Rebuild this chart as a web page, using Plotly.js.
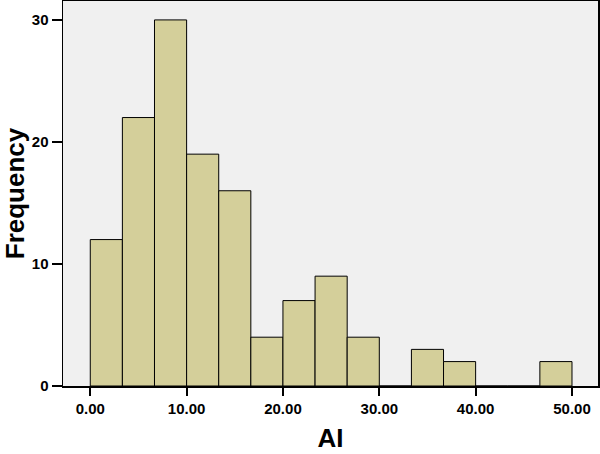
<!DOCTYPE html>
<html>
<head>
<meta charset="utf-8">
<script src="https://cdn.plot.ly/plotly-3.0.1.min.js"></script>
<style>
  html, body { margin: 0; padding: 0; background: #fff; }
  #hist { width: 600px; height: 454px; }
</style>
</head>
<body>
<div id="hist"></div>
<script>
// histogram of AI, 15 bins from 0 to 50
let binStart = 0;
let binEnd = 50;
let counts = [12, 22, 30, 19, 16, 4, 7, 9, 4, 0, 3, 2, 0, 0, 2];
let xTickVals = [0, 10, 20, 30, 40, 50];
let xTickText = ['0.00', '10.00', '20.00', '30.00', '40.00', '50.00'];
let yTickVals = [0, 10, 20, 30];

let binWidth = (binEnd - binStart) / counts.length;
let centers = counts.map((c, i) => binStart + (i + 0.5) * binWidth);

let fontFam = 'Liberation Sans, Arial, Helvetica, sans-serif';

let re = [{
  x: centers,
  y: counts,
  width: counts.map(() => binWidth),
  type: 'bar',
  marker: {color: '#d4cf9a', line: {color: '#000', width: 1}},
  hoverinfo: 'x+y'
}];

let layout = {
  width: 600,
  height: 454,
  margin: {l: 63, r: 2, t: 1, b: 68},
  paper_bgcolor: '#ffffff',
  plot_bgcolor: '#f0f0f0',
  showlegend: false,
  bargap: 0,
  xaxis: {
    range: [-2.83, 52.7],
    tickvals: xTickVals,
    ticktext: xTickText,
    ticks: 'outside',
    ticklen: 8,
    tickwidth: 2,
    tickcolor: '#000',
    showline: true,
    linecolor: '#000',
    linewidth: 1.5,
    mirror: true,
    showgrid: false,
    zeroline: false,
    tickfont: {family: fontFam, size: 15, color: '#000', weight: 'bold'},
    title: {text: 'AI', font: {family: fontFam, size: 26, color: '#000', weight: 'bold'}, standoff: 13}
  },
  yaxis: {
    range: [0, 31.55],
    tickvals: yTickVals,
    ticks: 'outside',
    ticklen: 10,
    tickwidth: 2,
    tickcolor: '#000',
    showline: true,
    linecolor: '#000',
    linewidth: 1.5,
    mirror: true,
    showgrid: false,
    zeroline: false,
    tickfont: {family: fontFam, size: 15, color: '#000', weight: 'bold'},
    title: {text: 'Frequency', font: {family: fontFam, size: 26, color: '#000', weight: 'bold'}, standoff: 8}
  }
};

Plotly.newPlot('hist', re, layout, {displayModeBar: false, staticPlot: true});
</script>
</body>
</html>
